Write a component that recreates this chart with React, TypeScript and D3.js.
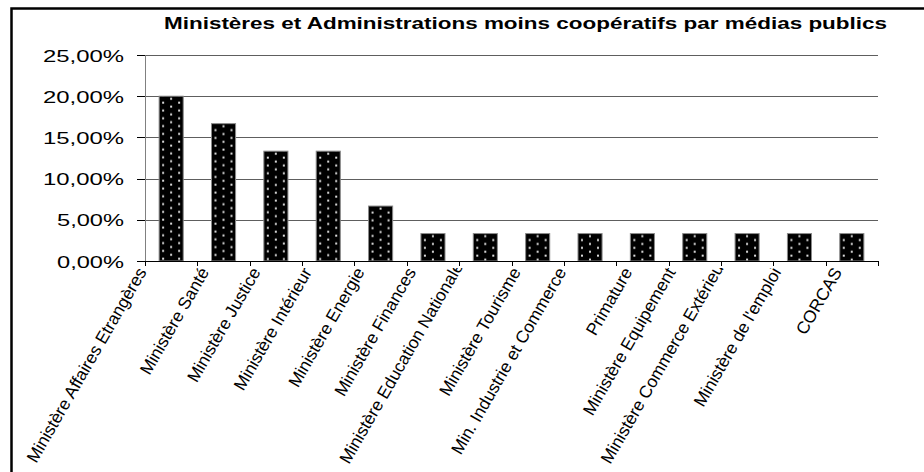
import React, { useEffect, useRef } from 'react';
import * as d3 from 'd3';

const title = 'Ministères et Administrations moins coopératifs par médias publics';

const categories = [
  'Ministère Affaires Etrangères',
  'Ministère Santé',
  'Ministère Justice',
  'Ministère Intérieur',
  'Ministère Energie',
  'Ministère Finances',
  'Ministère Education Nationale',
  'Ministère Tourisme',
  'Min. Industrie et Commerce',
  'Primature',
  'Ministère Equipement',
  'Ministère Commerce Extérieur',
  "Ministère de l'emploi",
  'CORCAS',
];

const values = [
  0.2, 0.1667, 0.1333, 0.1333, 0.0667, 0.0333, 0.0333, 0.0333, 0.0333, 0.0333,
  0.0333, 0.0333, 0.0333, 0.0333,
];

const yTicks = [0, 0.05, 0.1, 0.15, 0.2, 0.25];
const yTickLabels = ['0,00%', '5,00%', '10,00%', '15,00%', '20,00%', '25,00%'];

export default function App() {
  const ref = useRef<SVGSVGElement>(null);

  useEffect(() => {
    const svg = d3.select(ref.current);
    svg.selectAll('*').remove();
    const font = "'Liberation Sans', Arial, sans-serif";

    const left = 145, right = 878, top = 55, bottom = 261;
    const x = d3.scaleBand<string>().domain(categories).range([left, right]).paddingInner(0).paddingOuter(0);
    const y = d3.scaleLinear().domain([0, 0.25]).range([bottom, top]);

    svg.append('rect').attr('x', 0).attr('y', 0).attr('width', 924).attr('height', 472).attr('fill', '#fff');

    // outer frame
    svg.append('rect')
      .attr('x', 11.5).attr('y', 8.5).attr('width', 1000).attr('height', 600)
      .attr('fill', 'none').attr('stroke', '#000').attr('stroke-width', 2.5);

    // title
    svg.append('text')
      .attr('x', 164).attr('y', 29)
      .attr('font-family', font).attr('font-weight', 'bold').attr('font-size', 16.5)
      .attr('textLength', 723).attr('lengthAdjust', 'spacingAndGlyphs')
      .attr('fill', '#000')
      .text(title);

    // gridlines
    svg.append('g').selectAll('line').data(yTicks.filter(t => t > 0)).join('line')
      .attr('x1', left).attr('x2', right)
      .attr('y1', d => Math.round(y(d)) + 0.5).attr('y2', d => Math.round(y(d)) + 0.5)
      .attr('stroke', '#5e5e5e').attr('stroke-width', 1);

    // y axis line
    svg.append('line').attr('x1', left + 0.5).attr('x2', left + 0.5).attr('y1', top).attr('y2', bottom)
      .attr('stroke', '#808080').attr('stroke-width', 1);

    // y ticks
    svg.append('g').selectAll('line').data(yTicks).join('line')
      .attr('x1', left - 8).attr('x2', left)
      .attr('y1', d => Math.round(y(d)) + 0.5).attr('y2', d => Math.round(y(d)) + 0.5)
      .attr('stroke', '#000').attr('stroke-width', 1);

    svg.append('g').selectAll('text').data(yTicks).join('text')
      .attr('x', 124).attr('y', d => y(d) + 6.5)
      .attr('text-anchor', 'end')
      .attr('font-family', font).attr('font-size', 16.5)
      .attr('textLength', (d, i) => yTickLabels[i].length === 6 ? 81 : 67)
      .attr('lengthAdjust', 'spacingAndGlyphs')
      .attr('fill', '#000')
      .text((d, i) => yTickLabels[i]);

    // patterns
    const defs = svg.append('defs');
    const bw = x.bandwidth() * 0.46;
    categories.forEach((c, i) => {
      const bx = (x(c) as number) + (x.bandwidth() - bw) / 2;
      const by = y(values[i]);
      const p = defs.append('pattern')
        .attr('id', 'dots' + i).attr('patternUnits', 'userSpaceOnUse')
        .attr('x', bx).attr('y', by).attr('width', 16).attr('height', 7.8);
      p.append('rect').attr('width', 16).attr('height', 7.8).attr('fill', '#000');
      p.append('rect').attr('x', 3).attr('y', 5.5).attr('width', 2).attr('height', 2).attr('fill', '#dcdcdc');
      p.append('rect').attr('x', 11).attr('y', 1.6).attr('width', 2).attr('height', 2).attr('fill', '#dcdcdc');
    });

    // bars
    svg.append('g').selectAll('rect').data(values).join('rect')
      .attr('x', (d, i) => (x(categories[i]) as number) + (x.bandwidth() - bw) / 2)
      .attr('y', d => y(d))
      .attr('width', bw)
      .attr('height', d => bottom - y(d))
      .attr('fill', (d, i) => `url(#dots${i})`)
      .attr('stroke', '#8a8a8a').attr('stroke-width', 1);

    // x axis
    svg.append('line').attr('x1', left).attr('x2', right + 0.5).attr('y1', bottom + 0.5).attr('y2', bottom + 0.5)
      .attr('stroke', '#000').attr('stroke-width', 1);
    const bounds = categories.map(c => x(c) as number).concat([right]);
    svg.append('g').selectAll('line').data(bounds).join('line')
      .attr('x1', d => Math.round(d) + 0.5).attr('x2', d => Math.round(d) + 0.5)
      .attr('y1', bottom).attr('y2', bottom + 5)
      .attr('stroke', '#000').attr('stroke-width', 1);

    // x labels (rotated, clipped at the top when too long)
    const clip = defs.append('clipPath').attr('id', 'labclip');
    clip.append('rect').attr('x', 0).attr('y', 268).attr('width', 924).attr('height', 204);
    const angle = 60;
    const rad = (angle * Math.PI) / 180;
    const cosA = Math.cos(rad), sinA = Math.sin(rad);
    const ey = 272, maxStartY = 465;
    const lg = svg.append('g').attr('clip-path', 'url(#labclip)');
    categories.forEach(c => {
      const center = (x(c) as number) + x.bandwidth() / 2;
      const t = lg.append('text')
        .attr('font-family', font).attr('font-size', 17.3)
        .attr('text-anchor', 'end').attr('fill', '#000')
        .text(c);
      const L = (t.node() as SVGTextElement).getComputedTextLength();
      let ex = center - 2 - 0.1 * L, eyy = ey;
      const startY = eyy + L * sinA;
      if (startY > maxStartY) {
        const k = (startY - maxStartY) / sinA;
        ex = ex + k * cosA;
        eyy = eyy - k * sinA;
      }
      t.attr('transform', `translate(${ex},${eyy}) rotate(${-angle})`);
    });
  }, []);

  return (
    <svg
      ref={ref}
      width={924}
      height={472}
      style={{ position: 'absolute', left: 0, top: 0, display: 'block' }}
    />
  );
}
